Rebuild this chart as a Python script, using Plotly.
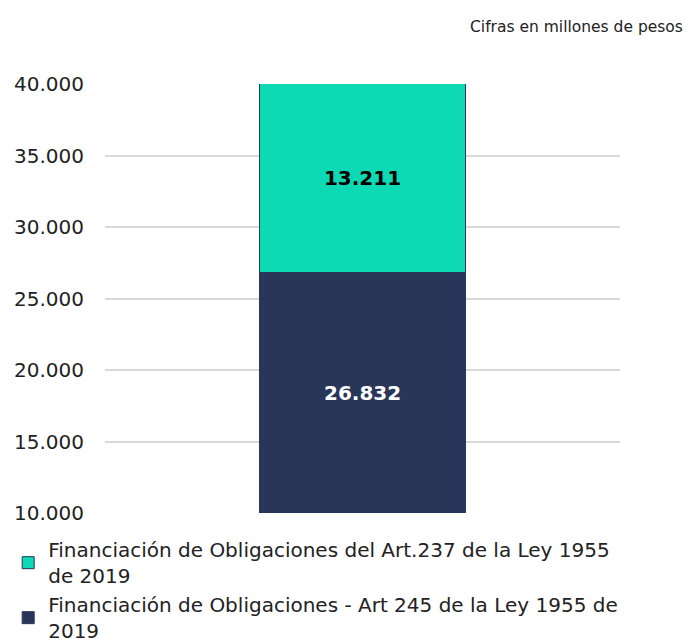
import plotly.graph_objects as go

categories = ["Total"]
serie_245 = [26832]
serie_237 = [13211]
name_245 = "Financiación de Obligaciones - Art 245 de la Ley 1955 de<br>2019"
name_237 = "Financiación de Obligaciones del Art.237 de la Ley 1955<br>de 2019"
tick_vals = [10000, 15000, 20000, 25000, 30000, 35000, 40000]
y_min, y_max = 10000, 40000

dark = "#29365A"
teal = "#0DDAB5"
font = "DejaVu Sans"

fig = go.Figure()
fig.add_trace(go.Bar(
    x=categories, y=serie_245, name=name_245,
    marker=dict(color=dark, line=dict(color=dark, width=1)),
    width=0.4,
))
fig.add_trace(go.Bar(
    x=categories, y=serie_237, name=name_237,
    marker=dict(color=teal, line=dict(color=dark, width=1)),
    texttemplate="%{y:,d}", textposition="inside", insidetextanchor="middle",
    textfont=dict(family=font, size=20, color="black", weight="bold"),
    width=0.4,
))

# label of the bottom segment centred in its visible part (axis starts at y_min)
fig.add_annotation(
    x=categories[0], y=(y_min + serie_245[0]) / 2,
    text=f"{serie_245[0]:,d}".replace(",", "."), showarrow=False,
    font=dict(family=font, size=20, color="white", weight="bold"),
)
fig.add_annotation(text="Cifras en millones de pesos", xref="paper", yref="paper",
                   x=1.126, y=1.133, xanchor="right", yanchor="middle",
                   showarrow=False, font=dict(family=font, size=15.5, color="#222222"))

fig.update_layout(
    width=686, height=642,
    barmode="stack",
    separators=",.",
    plot_bgcolor="white", paper_bgcolor="white",
    margin=dict(l=105, r=66, t=84, b=129, autoexpand=False),
    font=dict(family=font, color="#222222"),
    xaxis=dict(showticklabels=False, showgrid=False, zeroline=False, showline=False),
    yaxis=dict(range=[y_min, y_max], tickvals=tick_vals, tickformat=",d",
               showgrid=True, gridcolor="#D9D9D9", gridwidth=1.5,
               zeroline=False, showline=False,
               tickfont=dict(family=font, size=20, color="#222222"),
               ticklabelstandoff=20),
    showlegend=True,
    legend=dict(orientation="v", traceorder="reversed",
                x=-0.188, xanchor="left", y=-0.04, yanchor="top",
                font=dict(family=font, size=20, color="#222222"),
                itemwidth=30),
)

fig.write_html("out.html", config={"displayModeBar": False},
               post_script="document.body.style.margin='0';document.body.style.padding='0';")
